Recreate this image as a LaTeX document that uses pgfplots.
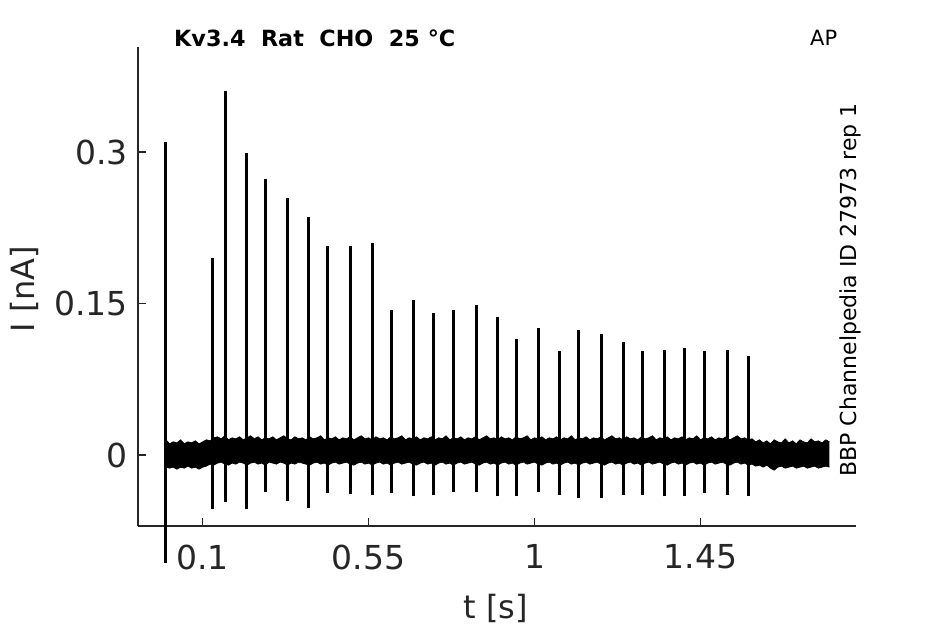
\documentclass[border=0pt]{standalone}
\usepackage{fontspec}
\setmainfont{DejaVu Sans}
\usepackage{pgfplots}
\pgfplotsset{compat=1.18}
\usepackage{pgfplotstable}
\usepgfplotslibrary{fillbetween}
\definecolor{axc}{RGB}{38,38,38}
\definecolor{lab}{RGB}{38,38,38}
\pgfplotstableread{
t hi lo
0.003 0.014 -0.012
0.01 0.011 -0.013
0.02 0.013 -0.012
0.03 0.012 -0.014
0.04 0.015 -0.012
0.05 0.011 -0.013
0.06 0.013 -0.011
0.07 0.012 -0.013
0.08 0.014 -0.012
0.09 0.011 -0.014
0.10 0.013 -0.012
0.11 0.015 -0.011
0.12 0.014 -0.009
0.13 0.017 -0.010
0.14 0.018 -0.008
0.15 0.016 -0.007
0.16 0.019 -0.009
0.17 0.015 -0.010
0.18 0.017 -0.008
0.19 0.016 -0.009
0.20 0.018 -0.007
0.21 0.015 -0.008
0.22 0.017 -0.010
0.23 0.019 -0.008
0.24 0.016 -0.007
0.25 0.018 -0.009
0.26 0.015 -0.008
0.27 0.017 -0.010
0.28 0.016 -0.007
0.29 0.018 -0.008
0.30 0.015 -0.009
0.31 0.017 -0.007
0.32 0.019 -0.008
0.33 0.016 -0.010
0.34 0.015 -0.008
0.35 0.018 -0.009
0.36 0.016 -0.007
0.37 0.017 -0.008
0.38 0.015 -0.009
0.39 0.018 -0.010
0.40 0.016 -0.008
0.41 0.017 -0.007
0.42 0.019 -0.009
0.43 0.015 -0.008
0.44 0.017 -0.010
0.45 0.016 -0.008
0.46 0.018 -0.007
0.47 0.015 -0.009
0.48 0.017 -0.008
0.49 0.016 -0.007
0.50 0.018 -0.009
0.51 0.015 -0.010
0.52 0.017 -0.008
0.53 0.019 -0.007
0.54 0.016 -0.009
0.55 0.017 -0.008
0.56 0.015 -0.010
0.57 0.018 -0.008
0.58 0.016 -0.007
0.59 0.017 -0.009
0.60 0.015 -0.008
0.61 0.018 -0.010
0.62 0.016 -0.008
0.63 0.017 -0.007
0.64 0.019 -0.009
0.65 0.015 -0.008
0.66 0.017 -0.007
0.67 0.016 -0.009
0.68 0.018 -0.010
0.69 0.015 -0.008
0.70 0.017 -0.007
0.71 0.016 -0.009
0.72 0.018 -0.008
0.73 0.015 -0.010
0.74 0.017 -0.008
0.75 0.016 -0.007
0.76 0.019 -0.009
0.77 0.015 -0.008
0.78 0.017 -0.010
0.79 0.016 -0.008
0.80 0.018 -0.007
0.81 0.015 -0.009
0.82 0.017 -0.008
0.83 0.016 -0.007
0.84 0.018 -0.009
0.85 0.015 -0.010
0.86 0.017 -0.008
0.87 0.019 -0.007
0.88 0.016 -0.009
0.89 0.017 -0.008
0.90 0.015 -0.010
0.91 0.018 -0.008
0.92 0.016 -0.007
0.93 0.017 -0.009
0.94 0.015 -0.008
0.95 0.018 -0.010
0.96 0.016 -0.008
0.97 0.017 -0.007
0.98 0.019 -0.009
0.99 0.015 -0.008
1.00 0.017 -0.007
1.01 0.016 -0.009
1.02 0.018 -0.010
1.03 0.015 -0.008
1.04 0.017 -0.007
1.05 0.016 -0.009
1.06 0.018 -0.008
1.07 0.015 -0.010
1.08 0.017 -0.008
1.09 0.016 -0.007
1.10 0.019 -0.009
1.11 0.015 -0.008
1.12 0.017 -0.010
1.13 0.016 -0.008
1.14 0.018 -0.007
1.15 0.015 -0.009
1.16 0.017 -0.008
1.17 0.016 -0.007
1.18 0.018 -0.009
1.19 0.015 -0.010
1.20 0.017 -0.008
1.21 0.019 -0.007
1.22 0.016 -0.009
1.23 0.017 -0.008
1.24 0.015 -0.010
1.25 0.018 -0.008
1.26 0.016 -0.007
1.27 0.017 -0.009
1.28 0.015 -0.008
1.29 0.018 -0.010
1.30 0.016 -0.008
1.31 0.017 -0.007
1.32 0.019 -0.009
1.33 0.015 -0.008
1.34 0.017 -0.007
1.35 0.016 -0.009
1.36 0.018 -0.010
1.37 0.015 -0.008
1.38 0.017 -0.007
1.39 0.016 -0.009
1.40 0.018 -0.008
1.41 0.015 -0.010
1.42 0.017 -0.008
1.43 0.016 -0.007
1.44 0.019 -0.009
1.45 0.015 -0.008
1.46 0.017 -0.010
1.47 0.016 -0.008
1.48 0.018 -0.007
1.49 0.015 -0.009
1.50 0.017 -0.008
1.51 0.016 -0.007
1.52 0.018 -0.009
1.53 0.015 -0.010
1.54 0.017 -0.008
1.55 0.019 -0.007
1.56 0.016 -0.009
1.57 0.017 -0.008
1.58 0.015 -0.010
1.59 0.016 -0.009
1.60 0.013 -0.011
1.61 0.015 -0.010
1.62 0.012 -0.012
1.63 0.014 -0.010
1.64 0.011 -0.013
1.65 0.015 -0.015
1.66 0.013 -0.012
1.67 0.012 -0.011
1.68 0.016 -0.013
1.69 0.012 -0.012
1.70 0.014 -0.011
1.71 0.011 -0.013
1.72 0.015 -0.012
1.73 0.013 -0.011
1.74 0.012 -0.013
1.75 0.016 -0.012
1.76 0.013 -0.011
1.77 0.014 -0.013
1.78 0.012 -0.012
1.79 0.015 -0.011
1.80 0.013 -0.012
}\band
\begin{document}
\begin{tikzpicture}
\begin{axis}[
  at={(138pt,98pt)}, anchor=south west,
  width=718pt, height=479pt, scale only axis,
  xmin=-0.0755, xmax=1.872, ymin=-0.0703, ymax=0.404,
  axis x line*=bottom, axis y line*=left,
  axis line style={draw=axc, line width=1.1pt},
  tick align=inside, major tick length=8pt,
  tick style={draw=axc, line width=1.1pt},
  xtick={0.1,0.55,1,1.45}, xticklabels={0.1,0.55,1,1.45},
  ytick={0,0.15,0.3}, yticklabels={0,0.15,0.3},
  /pgf/number format/assume math mode=true,
  ticklabel style={font=\fontsize{33}{38}\selectfont, text=lab},
  xticklabel style={yshift=-15pt},
  yticklabel style={xshift=-6.5pt},
  clip=false, unbounded coords=jump,
]
\addplot[name path=hi, draw=black, line width=0.8pt, forget plot] table[x=t,y=hi] {\band};
\addplot[name path=lo, draw=black, line width=0.8pt, forget plot] table[x=t,y=lo] {\band};
\addplot[black, forget plot] fill between[of=hi and lo];
\addplot[draw=black, line width=3pt] coordinates {
(0.000,-0.107) (0.000,0.310) (0.000,nan)
(0.126,-0.053) (0.126,0.195) (0.126,nan)
(0.163,-0.047) (0.163,0.360) (0.163,nan)
(0.218,-0.053) (0.218,0.299) (0.218,nan)
(0.270,-0.037) (0.270,0.273) (0.270,nan)
(0.331,-0.046) (0.331,0.254) (0.331,nan)
(0.386,-0.052) (0.386,0.236) (0.386,nan)
(0.438,-0.038) (0.438,0.207) (0.438,nan)
(0.500,-0.039) (0.500,0.207) (0.500,nan)
(0.560,-0.040) (0.560,0.210) (0.560,nan)
(0.611,-0.038) (0.611,0.144) (0.611,nan)
(0.671,-0.041) (0.671,0.153) (0.671,nan)
(0.727,-0.040) (0.727,0.141) (0.727,nan)
(0.779,-0.037) (0.779,0.144) (0.779,nan)
(0.842,-0.037) (0.842,0.149) (0.842,nan)
(0.899,-0.041) (0.899,0.137) (0.899,nan)
(0.951,-0.041) (0.951,0.115) (0.951,nan)
(1.012,-0.037) (1.012,0.126) (1.012,nan)
(1.067,-0.040) (1.067,0.103) (1.067,nan)
(1.119,-0.043) (1.119,0.124) (1.119,nan)
(1.181,-0.043) (1.181,0.120) (1.181,nan)
(1.241,-0.040) (1.241,0.112) (1.241,nan)
(1.293,-0.040) (1.293,0.103) (1.293,nan)
(1.352,-0.041) (1.352,0.104) (1.352,nan)
(1.408,-0.041) (1.408,0.106) (1.408,nan)
(1.460,-0.038) (1.460,0.103) (1.460,nan)
(1.523,-0.040) (1.523,0.104) (1.523,nan)
(1.580,-0.041) (1.580,0.098)
};
\end{axis}
\node[anchor=base, font=\fontsize{32}{37}\selectfont, text=lab, inner sep=0pt] at (496pt,6pt) {t [s]};
\node[anchor=base, rotate=90, font=\fontsize{32}{37}\selectfont, text=lab, inner sep=0pt] at (34pt,335pt) {I [nA]};
\node[anchor=base west, font=\fontsize{22.3}{27}\selectfont\bfseries, inner sep=0pt] at (174pt,577.3pt) {Kv3.4\ \ Rat\ \ CHO\ \ 25\ °C};
\node[anchor=base west, font=\fontsize{21}{25}\selectfont, inner sep=0pt] at (810pt,578pt) {AP};
\node[anchor=base, rotate=90, font=\fontsize{22}{26}\selectfont, inner sep=0pt] at (856pt,334pt) {BBP Channelpedia ID 27973 rep 1};
\path (0pt,0pt) rectangle (945pt,624pt);
\end{tikzpicture}
\end{document}
